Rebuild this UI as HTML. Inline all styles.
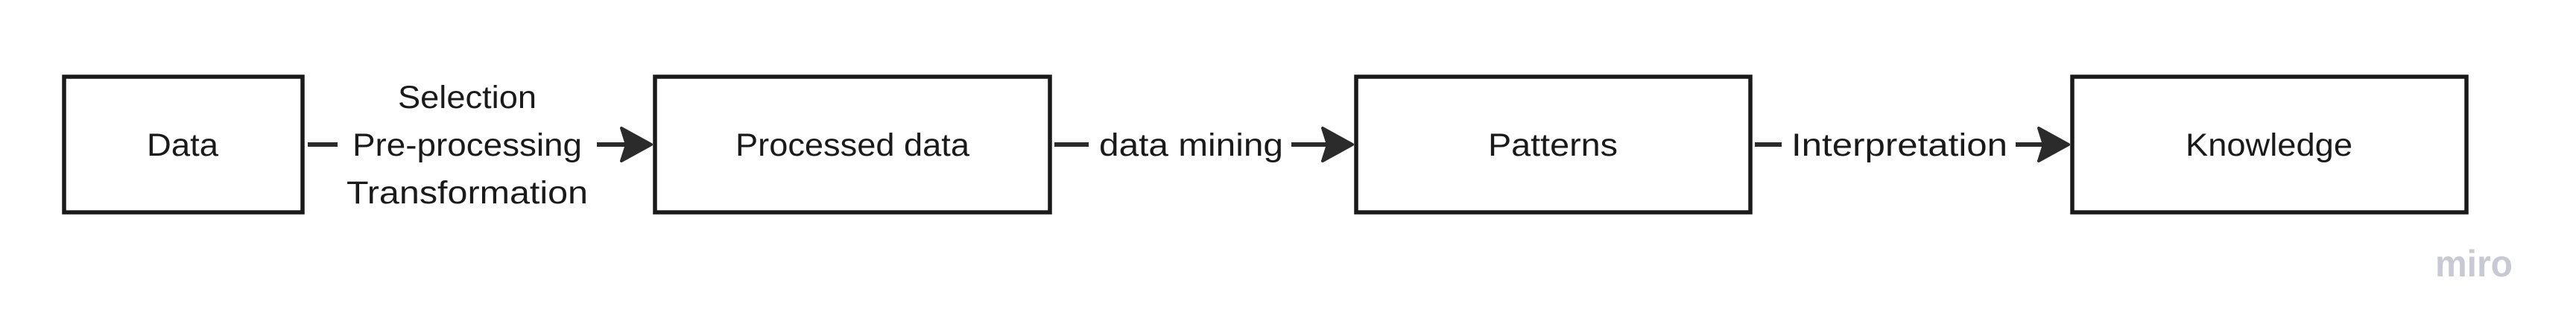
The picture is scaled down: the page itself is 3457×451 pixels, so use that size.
<!DOCTYPE html>
<html><head><meta charset="utf-8"><style>
html,body{margin:0;padding:0;background:#fff;}
svg{display:block;}
text{font-family:"Liberation Sans",sans-serif;fill:#1a1a1a;}
</style></head><body>
<svg width="3457" height="451" viewBox="0 0 3457 451" xmlns="http://www.w3.org/2000/svg">
<defs>
<path id="ah" d="M0,0 L-40,-22 L-33,0 L-40,22 Z"/>
</defs>
<g fill="#fff" stroke="#1a1a1a" stroke-width="5.5">
<rect x="86" y="103" width="320" height="182"/>
<rect x="879" y="103" width="530" height="182"/>
<rect x="1820" y="103" width="529" height="182"/>
<rect x="2781" y="103" width="529" height="182"/>
</g>
<g stroke="#2b2b2b" stroke-width="6">
<line x1="413" y1="194" x2="453" y2="194"/>
<line x1="801" y1="194" x2="850" y2="194"/>
<line x1="1415" y1="194" x2="1461" y2="194"/>
<line x1="1733" y1="194" x2="1790" y2="194"/>
<line x1="2355" y1="194" x2="2391" y2="194"/>
<line x1="2705" y1="194" x2="2750" y2="194"/>
</g>
<g fill="#2b2b2b" stroke="#2b2b2b" stroke-width="4" stroke-linejoin="round">
<use href="#ah" transform="translate(874,194)"/>
<use href="#ah" transform="translate(1815,194)"/>
<use href="#ah" transform="translate(2776,194)"/>
</g>
<g font-size="43" lengthAdjust="spacingAndGlyphs">
<text x="197" y="209" textLength="96" lengthAdjust="spacingAndGlyphs">Data</text>
<text x="987" y="209" textLength="314" lengthAdjust="spacingAndGlyphs">Processed data</text>
<text x="1997" y="209" textLength="174" lengthAdjust="spacingAndGlyphs">Patterns</text>
<text x="2933" y="209" textLength="224" lengthAdjust="spacingAndGlyphs">Knowledge</text>
<text x="534" y="145" textLength="186" lengthAdjust="spacingAndGlyphs">Selection</text>
<text x="473" y="209" textLength="308" lengthAdjust="spacingAndGlyphs">Pre-processing</text>
<text x="465" y="273" textLength="324" lengthAdjust="spacingAndGlyphs">Transformation</text>
<text x="1475" y="209" textLength="247" lengthAdjust="spacingAndGlyphs">data mining</text>
<text x="2404" y="209" textLength="290" lengthAdjust="spacingAndGlyphs">Interpretation</text>
</g>
<text x="3268" y="371" font-size="50" font-weight="bold" textLength="104" lengthAdjust="spacingAndGlyphs" style="fill:#c9c9d3">miro</text>
</svg>
</body></html>
